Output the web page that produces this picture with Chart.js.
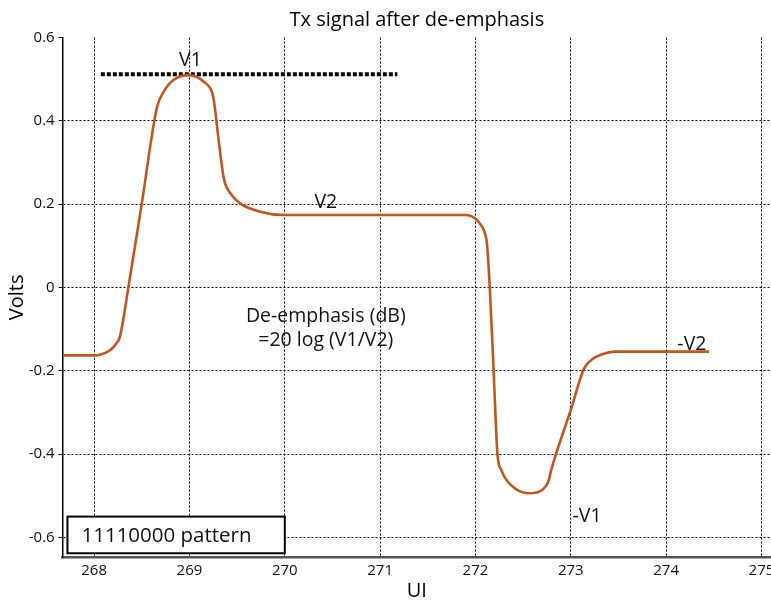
<!DOCTYPE html>
<html>
<head>
<meta charset="utf-8">
<script src="https://cdn.jsdelivr.net/npm/chart.js@4/dist/chart.umd.min.js"></script>
<style>
html,body{margin:0;padding:0;background:#fff;}
#wrap{width:771px;height:601px;}
</style>
</head>
<body>
<div id="wrap"><canvas id="c" width="771" height="601"></canvas></div>
<script>
// ---- data ----
const curveUI = [267.67, 267.99, 268.08, 268.17, 268.23, 268.27, 268.36, 268.50, 268.66, 268.73, 268.83, 268.99, 269.15, 269.24, 269.26, 269.31, 269.36, 269.43, 269.53, 269.74, 269.99, 271.90, 272.03, 272.10, 272.12, 272.15, 272.19, 272.23, 272.27, 272.37, 272.56, 272.70, 272.77, 272.79, 273.00, 273.14, 273.24, 273.31, 273.47, 274.45];
const curveVolts = [-0.163, -0.163, -0.160, -0.150, -0.135, -0.118, 0.002, 0.202, 0.434, 0.470, 0.498, 0.510, 0.494, 0.466, 0.442, 0.346, 0.262, 0.226, 0.202, 0.182, 0.174, 0.174, 0.158, 0.130, 0.106, 0.000, -0.198, -0.398, -0.438, -0.474, -0.494, -0.486, -0.462, -0.442, -0.294, -0.194, -0.170, -0.162, -0.154, -0.154];
const v1LineUI = [268.07, 271.18];
const v1LineVolts = [0.512, 0.512];
const xTickValues = [268, 269, 270, 271, 272, 273, 274, 275];
const yTickValues = [-0.6, -0.4, -0.2, 0, 0.2, 0.4, 0.6];
const titleText = 'Tx signal after de-emphasis';
const xTitle = 'UI';
const yTitle = 'Volts';
const noteTexts = ['V1', 'V2', '-V2', '-V1', 'De-emphasis (dB)', '=20 log (V1/V2)'];
const patternText = '11110000 pattern';

// ---- annotation placement (data coordinates) ----
const notePlace = [
  {u: 269.01, v: 0.545},
  {u: 270.43, v: 0.204},
  {u: 274.27, v: -0.136},
  {u: 273.17, v: -0.55},
  {u: 270.43, v: -0.070},
  {u: 270.43, v: -0.126}
];
const boxPlace = {u1: 267.72, u2: 270.0, v1: -0.550, v2: -0.638};

const FONT = '"Open Sans", "Noto Sans", sans-serif';

const annotations = {
  id: 'annotations',
  afterDatasetsDraw(chart) {
    const ctx = chart.ctx, xs = chart.scales.x, ys = chart.scales.y;
    ctx.save();
    ctx.fillStyle = '#111';
    ctx.textAlign = 'center';
    ctx.textBaseline = 'middle';
    ctx.font = '19.5px ' + FONT;
    noteTexts.forEach((t, i) => {
      ctx.fillText(t, xs.getPixelForValue(notePlace[i].u), ys.getPixelForValue(notePlace[i].v));
    });
    // pattern box
    const x1 = xs.getPixelForValue(boxPlace.u1), x2 = xs.getPixelForValue(boxPlace.u2);
    const y1 = ys.getPixelForValue(boxPlace.v1), y2 = ys.getPixelForValue(boxPlace.v2);
    ctx.fillStyle = '#fff';
    ctx.fillRect(x1, y1, x2 - x1, y2 - y1);
    ctx.strokeStyle = '#000';
    ctx.lineWidth = 2;
    ctx.strokeRect(x1, y1, x2 - x1, y2 - y1);
    ctx.fillStyle = '#111';
    ctx.font = '20.5px ' + FONT;
    ctx.textAlign = 'left';
    ctx.fillText(patternText, x1 + 14, (y1 + y2) / 2 + 1);
    ctx.restore();
  }
};

new Chart(document.getElementById('c'), {
  type: 'line',
  data: {
    datasets: [
      {
        data: curveUI.map((u, i) => ({x: u, y: curveVolts[i]})),
        borderColor: '#c0571f',
        borderWidth: 2.6,
        pointRadius: 0,
        fill: false,
        cubicInterpolationMode: 'monotone'
      },
      {
        data: v1LineUI.map((u, i) => ({x: u, y: v1LineVolts[i]})),
        borderColor: '#000',
        borderWidth: 4,
        borderDash: [4, 2],
        borderCapStyle: 'butt',
        pointRadius: 0,
        fill: false
      }
    ]
  },
  options: {
    responsive: false,
    animation: false,
    layout: {padding: {left: 0, right: 0, top: 0, bottom: 0}},
    plugins: {
      legend: {display: false},
      tooltip: {enabled: false},
      title: {
        display: true,
        text: titleText,
        fullSize: false,
        color: '#000',
        font: {family: FONT, size: 20, weight: 'normal'},
        padding: {top: 8, bottom: 5.6}
      }
    },
    scales: {
      x: {
        type: 'linear',
        min: 267.67,
        max: 275.10,
        afterBuildTicks: s => { s.ticks = xTickValues.map(v => ({value: v})); },
        afterFit: s => { s.height = 44; s.paddingRight = 0; s.paddingLeft = 0; },
        ticks: {color: '#111', font: {family: FONT, size: 15}, padding: 5, maxRotation: 0, autoSkip: false,
                callback: v => String(v)},
        grid: {color: '#000', lineWidth: 1, drawTicks: false},
        border: {display: true, color: '#555', width: 2.5, dash: [2, 2]},
        title: {display: true, text: xTitle, color: '#000', font: {family: FONT, size: 20}, padding: {top: 0, bottom: -2}}
      },
      y: {
        type: 'linear',
        min: -0.647,
        max: 0.6,
        afterBuildTicks: s => { s.ticks = yTickValues.map(v => ({value: v})); },
        afterFit: s => { s.width = 62.7; s.paddingTop = 0; s.paddingBottom = 0; },
        ticks: {color: '#111', font: {family: FONT, size: 15}, padding: 4,
                callback: v => String(Math.round(v * 10) / 10)},
        grid: {
          color: c => (c.tick && c.tick.value === 0.6) ? 'rgba(0,0,0,0)' : '#000',
          lineWidth: 1, drawTicks: true, tickLength: 4, tickColor: '#000', tickWidth: 1
        },
        border: {display: true, color: '#000', width: 1.5, dash: [2, 2]},
        title: {display: true, text: yTitle, color: '#000', font: {family: FONT, size: 20}, padding: {top: 5, bottom: 0}}
      }
    }
  },
  plugins: [annotations]
});
</script>
</body>
</html>
